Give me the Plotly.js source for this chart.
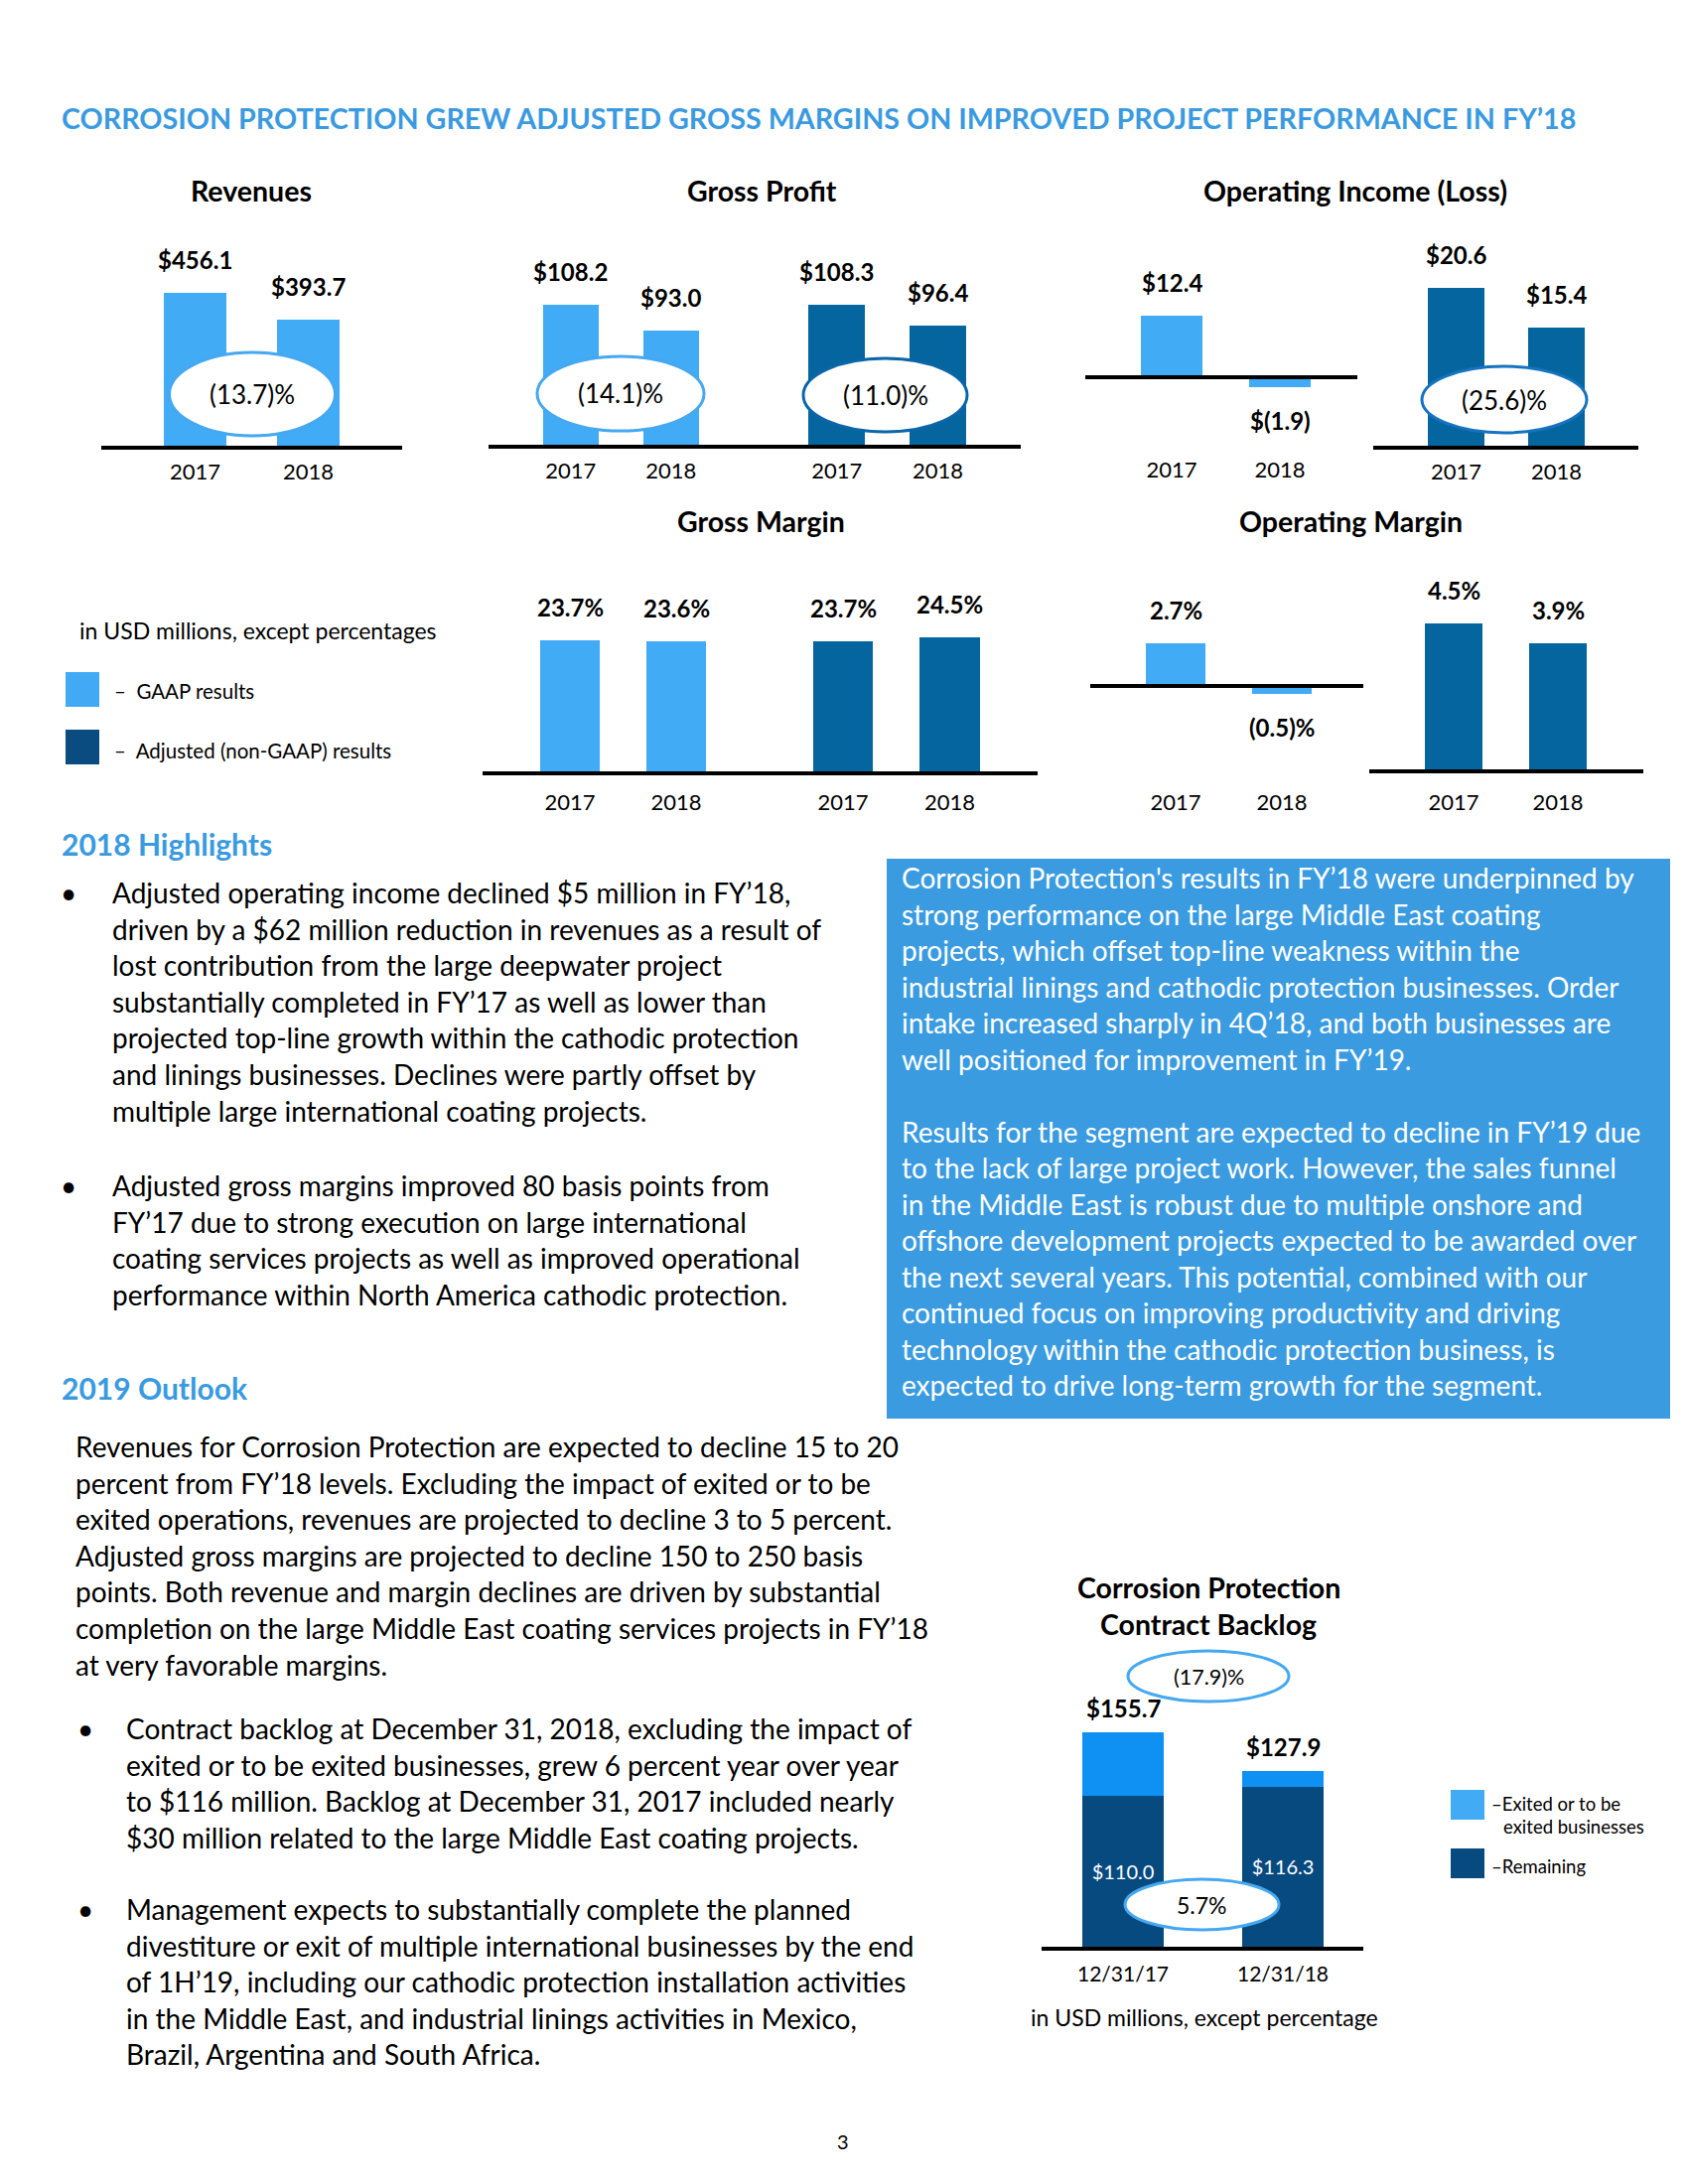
<!DOCTYPE html>
<html><head><meta charset="utf-8">
<script src="https://cdn.plot.ly/plotly-3.0.1.min.js"></script>
<style>html,body{margin:0;padding:0;background:#fff}</style>
</head><body><div id="chart" style="width:1700px;height:2200px"></div>
<script>
// ---------------- DATA ----------------
const years = ['2017', '2018'];
const revenues = [456.1, 393.7];
const grossProfitGAAP = [108.2, 93.0];
const grossProfitAdj = [108.3, 96.4];
const opIncomeGAAP = [12.4, -1.9];
const opIncomeAdj = [20.6, 15.4];
const grossMarginGAAP = [23.7, 23.6];
const grossMarginAdj = [23.7, 24.5];
const opMarginGAAP = [2.7, -0.5];
const opMarginAdj = [4.5, 3.9];
const changeLabels = ['(13.7)%', '(14.1)%', '(11.0)%', '(25.6)%'];
const backlogDates = ['12/31/17', '12/31/18'];
const backlogRemaining = [110.0, 116.3];
const backlogExited = [45.7, 11.6];
const backlogTotal = [155.7, 127.9];
const backlogChangeLabels = ['(17.9)%', '5.7%'];

// ---------------- STYLE / LAYOUT ----------------
const GAAP = '#41ABF5', ADJ = '#05659F', BLUE = '#3A9AE0';
const W = 1700, H = 2200;
const px = x => x / W, py = y => 1 - y / H;
const usd = v => v < 0 ? '$(' + Math.abs(v).toFixed(1) + ')' : '$' + v.toFixed(1);
const pct = v => v < 0 ? '(' + Math.abs(v).toFixed(1) + ')%' : v.toFixed(1) + '%';

const panels = [
  {vals: revenues,        color: GAAP, fmt: usd, L: 102,  R: 405,  c0: 196.5, c1: 310.5, top: 215, base: 449, min: 100, s: 0.4325, stand: 4},
  {vals: grossProfitGAAP, color: GAAP, fmt: usd, L: 492,  R: 760,  c0: 574.8, c1: 675.8, top: 215, base: 448, min: 26,  s: 1.71,  stand: 4},
  {vals: grossProfitAdj,  color: ADJ,  fmt: usd, L: 760,  R: 1028, c0: 842.8, c1: 944.5, top: 215, base: 448, min: 26,  s: 1.71,  stand: 4},
  {vals: opIncomeGAAP,    color: GAAP, fmt: usd, L: 1093, R: 1367, c0: 1180,  c1: 1289,  top: 215, zero: 380, bottom: 449, s: 5.0, stand: 9},
  {vals: opIncomeAdj,     color: ADJ,  fmt: usd, L: 1383, R: 1650, c0: 1466.6,c1: 1567.5,top: 215, base: 449, min: 0,   s: 7.7,   stand: 4},
  {vals: grossMarginGAAP, color: GAAP, fmt: pct, L: 486,  R: 769,  c0: 574,   c1: 681,   top: 560, base: 777, min: 0,   s: 5.56,  stand: 9},
  {vals: grossMarginAdj,  color: ADJ,  fmt: pct, L: 769,  R: 1045, c0: 849,   c1: 956.6, top: 560, base: 777, min: 0,   s: 5.53,  stand: 9},
  {vals: opMarginGAAP,    color: GAAP, fmt: pct, L: 1098, R: 1373, c0: 1184,  c1: 1291,  top: 560, zero: 691, bottom: 777, s: 16, stand: 16},
  {vals: opMarginAdj,     color: ADJ,  fmt: pct, L: 1379, R: 1655, c0: 1464,  c1: 1569,  top: 560, base: 775, min: 0,   s: 32.6,  stand: 11}
];

const traces = [], annotations = [], shapes = [];
const layout = {
  width: W, height: H, margin: {l: 0, r: 0, t: 0, b: 0},
  paper_bgcolor: '#ffffff', plot_bgcolor: 'rgba(0,0,0,0)', showlegend: false, barmode: 'stack',
  font: {family: 'Lato, sans-serif', color: '#000'},
  annotations: annotations, shapes: shapes
};

function axisNames(n) {
  return {xs: n === 1 ? 'x' : 'x' + n, ys: n === 1 ? 'y' : 'y' + n,
          xa: n === 1 ? 'xaxis' : 'xaxis' + n, ya: n === 1 ? 'yaxis' : 'yaxis' + n};
}

panels.forEach((p, k) => {
  const a = axisNames(k + 1);
  const sp = p.c1 - p.c0;
  const hasZero = p.zero !== undefined;
  const bottom = hasZero ? p.bottom : p.base;
  const yr = hasZero ? [-(p.bottom - p.zero) / p.s, (p.zero - p.top) / p.s]
                     : [p.min, p.min + (p.base - p.top) / p.s];
  layout[a.xa] = {domain: [px(p.L), px(p.R)], range: [-(p.c0 - p.L) / sp, 1 + (p.R - p.c1) / sp],
    type: 'category', anchor: a.ys, showline: !hasZero, linecolor: '#000', linewidth: 4,
    showgrid: false, zeroline: false, ticks: '', tickfont: {size: 22, color: '#000'},
    ticklabelstandoff: p.stand, fixedrange: true};
  layout[a.ya] = {domain: [py(bottom), py(p.top)], range: yr, anchor: a.xs, showline: false,
    showgrid: false, showticklabels: false, ticks: '', zeroline: hasZero, zerolinecolor: '#000',
    zerolinewidth: 4, zerolinelayer: 'above traces', fixedrange: true};
  traces.push({type: 'bar', x: years, y: p.vals, xaxis: a.xs, yaxis: a.ys, width: 0.56,
    marker: {color: p.color}, hoverinfo: 'skip'});
  // category index used as x so numeric-looking category names are not misread
  p.vals.forEach((v, i) => annotations.push({xref: a.xs, yref: a.ys, x: i, y: v,
    text: '<b>' + p.fmt(v) + '</b>', showarrow: false, yanchor: v >= 0 ? 'bottom' : 'top',
    yshift: v >= 0 ? 17 : -17, font: {size: 24, color: '#000'}}));
});

// Backlog chart (axis 10)
(function () {
  const a = axisNames(10);
  const L = 1049, R = 1373, c0 = 1131, c1 = 1292, sp = c1 - c0, base = 1961, top = 1700, s = 1.385;
  layout[a.xa] = {domain: [px(L), px(R)], range: [-(c0 - L) / sp, 1 + (R - c1) / sp], type: 'category',
    anchor: a.ys, showline: true, linecolor: '#000', linewidth: 4, showgrid: false, zeroline: false,
    ticks: '', tickfont: {size: 21, color: '#000'}, ticklabelstandoff: 6, fixedrange: true};
  layout[a.ya] = {domain: [py(base), py(top)], range: [0, (base - top) / s], anchor: a.xs,
    showline: false, showgrid: false, showticklabels: false, zeroline: false, fixedrange: true};
  traces.push({type: 'bar', x: backlogDates, y: backlogRemaining, xaxis: a.xs, yaxis: a.ys, width: 0.51,
    marker: {color: '#074A80'}, text: backlogRemaining.map(v => '$' + v.toFixed(1)),
    textposition: 'inside', insidetextanchor: 'middle', textfont: {size: 20, color: '#ffffff'},
    hoverinfo: 'skip'});
  traces.push({type: 'bar', x: backlogDates, y: backlogExited, xaxis: a.xs, yaxis: a.ys, width: 0.51,
    marker: {color: '#0F91F3'}, hoverinfo: 'skip'});
  backlogTotal.forEach((v, i) => annotations.push({xref: a.xs, yref: a.ys, x: i, y: v,
    text: '<b>$' + v.toFixed(1) + '</b>', showarrow: false, yanchor: 'bottom', yshift: 8,
    font: {size: 24, color: '#000'}}));
})();

// helpers for paper-positioned text
function txt(text, x, y, opt) {
  opt = opt || {};
  annotations.push({xref: 'paper', yref: 'paper', x: px(x), y: py(y), text: text, showarrow: false,
    xanchor: opt.xanchor || 'left', yanchor: 'middle', align: opt.xanchor === 'center' ? 'center' : 'left',
    font: {size: opt.size || 28, color: opt.color || '#000', family: 'Lato, sans-serif'}});
}
function lines(arr, x, y0, dy, opt) { arr.forEach((t, i) => { if (t) txt(t, x, y0 + i * dy, opt); }); }
function ellipse(cx, cy, rx, ry, col) {
  shapes.push({type: 'circle', xref: 'paper', yref: 'paper', x0: px(cx - rx), x1: px(cx + rx),
    y0: py(cy + ry), y1: py(cy - ry), fillcolor: '#ffffff', line: {color: col, width: 3}, layer: 'above'});
}
function rect(x0, y0, x1, y1, col, layer) {
  shapes.push({type: 'rect', xref: 'paper', yref: 'paper', x0: px(x0), x1: px(x1), y0: py(y1), y1: py(y0),
    fillcolor: col, line: {width: 0}, layer: layer || 'above'});
}

// Title
txt('<b>CORROSION PROTECTION GREW ADJUSTED GROSS MARGINS ON IMPROVED PROJECT PERFORMANCE IN FY’18</b>', 60, 119, {size: 28.7, color: BLUE});

// Chart titles
const CT = 28.5;
txt('<b>Revenues</b>', 252.5, 192, {xanchor: 'center', size: CT});
txt('<b>Gross Profit</b>', 767, 192, {xanchor: 'center', size: CT});
txt('<b>Operating Income (Loss)</b>', 1365, 192, {xanchor: 'center', size: CT});
txt('<b>Gross Margin</b>', 766, 525, {xanchor: 'center', size: CT});
txt('<b>Operating Margin</b>', 1360, 525, {xanchor: 'center', size: CT});
txt('<b>Corrosion Protection</b>', 1217, 1599, {xanchor: 'center', size: CT});
txt('<b>Contract Backlog</b>', 1217, 1636, {xanchor: 'center', size: CT});

// Change ellipses
ellipse(254, 397, 83.5, 42, '#45A8F0');   txt(changeLabels[0], 254, 397, {xanchor: 'center', size: 26});
ellipse(625, 396.5, 84, 37.5, '#45A8F0'); txt(changeLabels[1], 625, 396.5, {xanchor: 'center', size: 26});
ellipse(891.5, 398, 82.5, 37, '#0B66A8'); txt(changeLabels[2], 891.5, 398, {xanchor: 'center', size: 26});
ellipse(1515, 402.5, 83, 33.5, '#1673C0'); txt(changeLabels[3], 1515, 402.5, {xanchor: 'center', size: 26});
ellipse(1217, 1688.5, 81, 25.5, '#45A8F0'); txt(backlogChangeLabels[0], 1217, 1688.5, {xanchor: 'center', size: 21.5});
ellipse(1210.5, 1918.5, 77.5, 25.5, '#45A8F0'); txt(backlogChangeLabels[1], 1210.5, 1918.5, {xanchor: 'center', size: 23});

// Top legend
txt('in USD millions, except percentages', 78, 635, {size: 23});
rect(66, 677, 100, 712, '#42A9F4');
txt('–  GAAP results', 113, 696, {size: 20.5});
rect(66, 735, 100, 770, '#0A4C80');
txt('–  Adjusted (non-GAAP) results', 113, 756, {size: 20.5});

// Backlog legend and note
rect(1461, 1803, 1495, 1833, '#41ABF5');
txt('–Exited or to be', 1500, 1817, {size: 18.5});
txt('exited businesses', 1512, 1840, {size: 18.5});
rect(1461, 1862, 1495, 1892, '#074A80');
txt('–Remaining', 1500, 1880, {size: 18.5});
txt('in USD millions, except percentage', 1213, 2032, {xanchor: 'center', size: 23});

// Highlights
txt('<b>2018 Highlights</b>', 60, 850, {size: 30, color: BLUE});
const LH = 36.6;
txt('•', 59, 899);
lines(['Adjusted operating income declined $5 million in FY’18,',
  'driven by a $62 million reduction in revenues as a result of',
  'lost contribution from the large deepwater project',
  'substantially completed in FY’17 as well as lower than',
  'projected top-line growth within the cathodic protection',
  'and linings businesses. Declines were partly offset by',
  'multiple large international coating projects.'], 111, 899, LH);
txt('•', 59, 1194);
lines(['Adjusted gross margins improved 80 basis points from',
  'FY’17 due to strong execution on large international',
  'coating services projects as well as improved operational',
  'performance within North America cathodic protection.'], 111, 1194, LH);

// Blue box
rect(893, 865, 1682, 1429, '#3A9BE0', 'below');
lines(['Corrosion Protection\'s results in FY’18 were underpinned by',
  'strong performance on the large Middle East coating',
  'projects, which offset top-line weakness within the',
  'industrial linings and cathodic protection businesses. Order',
  'intake increased sharply in 4Q’18, and both businesses are',
  'well positioned for improvement in FY’19.',
  '',
  'Results for the segment are expected to decline in FY’19 due',
  'to the lack of large project work. However, the sales funnel',
  'in the Middle East is robust due to multiple onshore and',
  'offshore development projects expected to be awarded over',
  'the next several years. This potential, combined with our',
  'continued focus on improving productivity and driving',
  'technology within the cathodic protection business, is',
  'expected to drive long-term growth for the segment.'], 906, 884, 36.5, {color: '#ffffff'});

// Outlook
txt('<b>2019 Outlook</b>', 60, 1398, {size: 30, color: BLUE});
lines(['Revenues for Corrosion Protection are expected to decline 15 to 20',
  'percent from FY’18 levels. Excluding the impact of exited or to be',
  'exited operations, revenues are projected to decline 3 to 5 percent.',
  'Adjusted gross margins are projected to decline 150 to 250 basis',
  'points. Both revenue and margin declines are driven by substantial',
  'completion on the large Middle East coating services projects in FY’18',
  'at very favorable margins.'], 74, 1457, LH);
txt('•', 76, 1741);
lines(['Contract backlog at December 31, 2018, excluding the impact of',
  'exited or to be exited businesses, grew 6 percent year over year',
  'to $116 million. Backlog at December 31, 2017 included nearly',
  '$30 million related to the large Middle East coating projects.'], 125, 1741, LH);
txt('•', 76, 1923);
lines(['Management expects to substantially complete the planned',
  'divestiture or exit of multiple international businesses by the end',
  'of 1H’19, including our cathodic protection installation activities',
  'in the Middle East, and industrial linings activities in Mexico,',
  'Brazil, Argentina and South Africa.'], 125, 1923, LH);

txt('3', 849, 2157, {xanchor: 'center', size: 20});

Plotly.newPlot('chart', traces, layout, {staticPlot: true, displayModeBar: false});
</script></body></html>
